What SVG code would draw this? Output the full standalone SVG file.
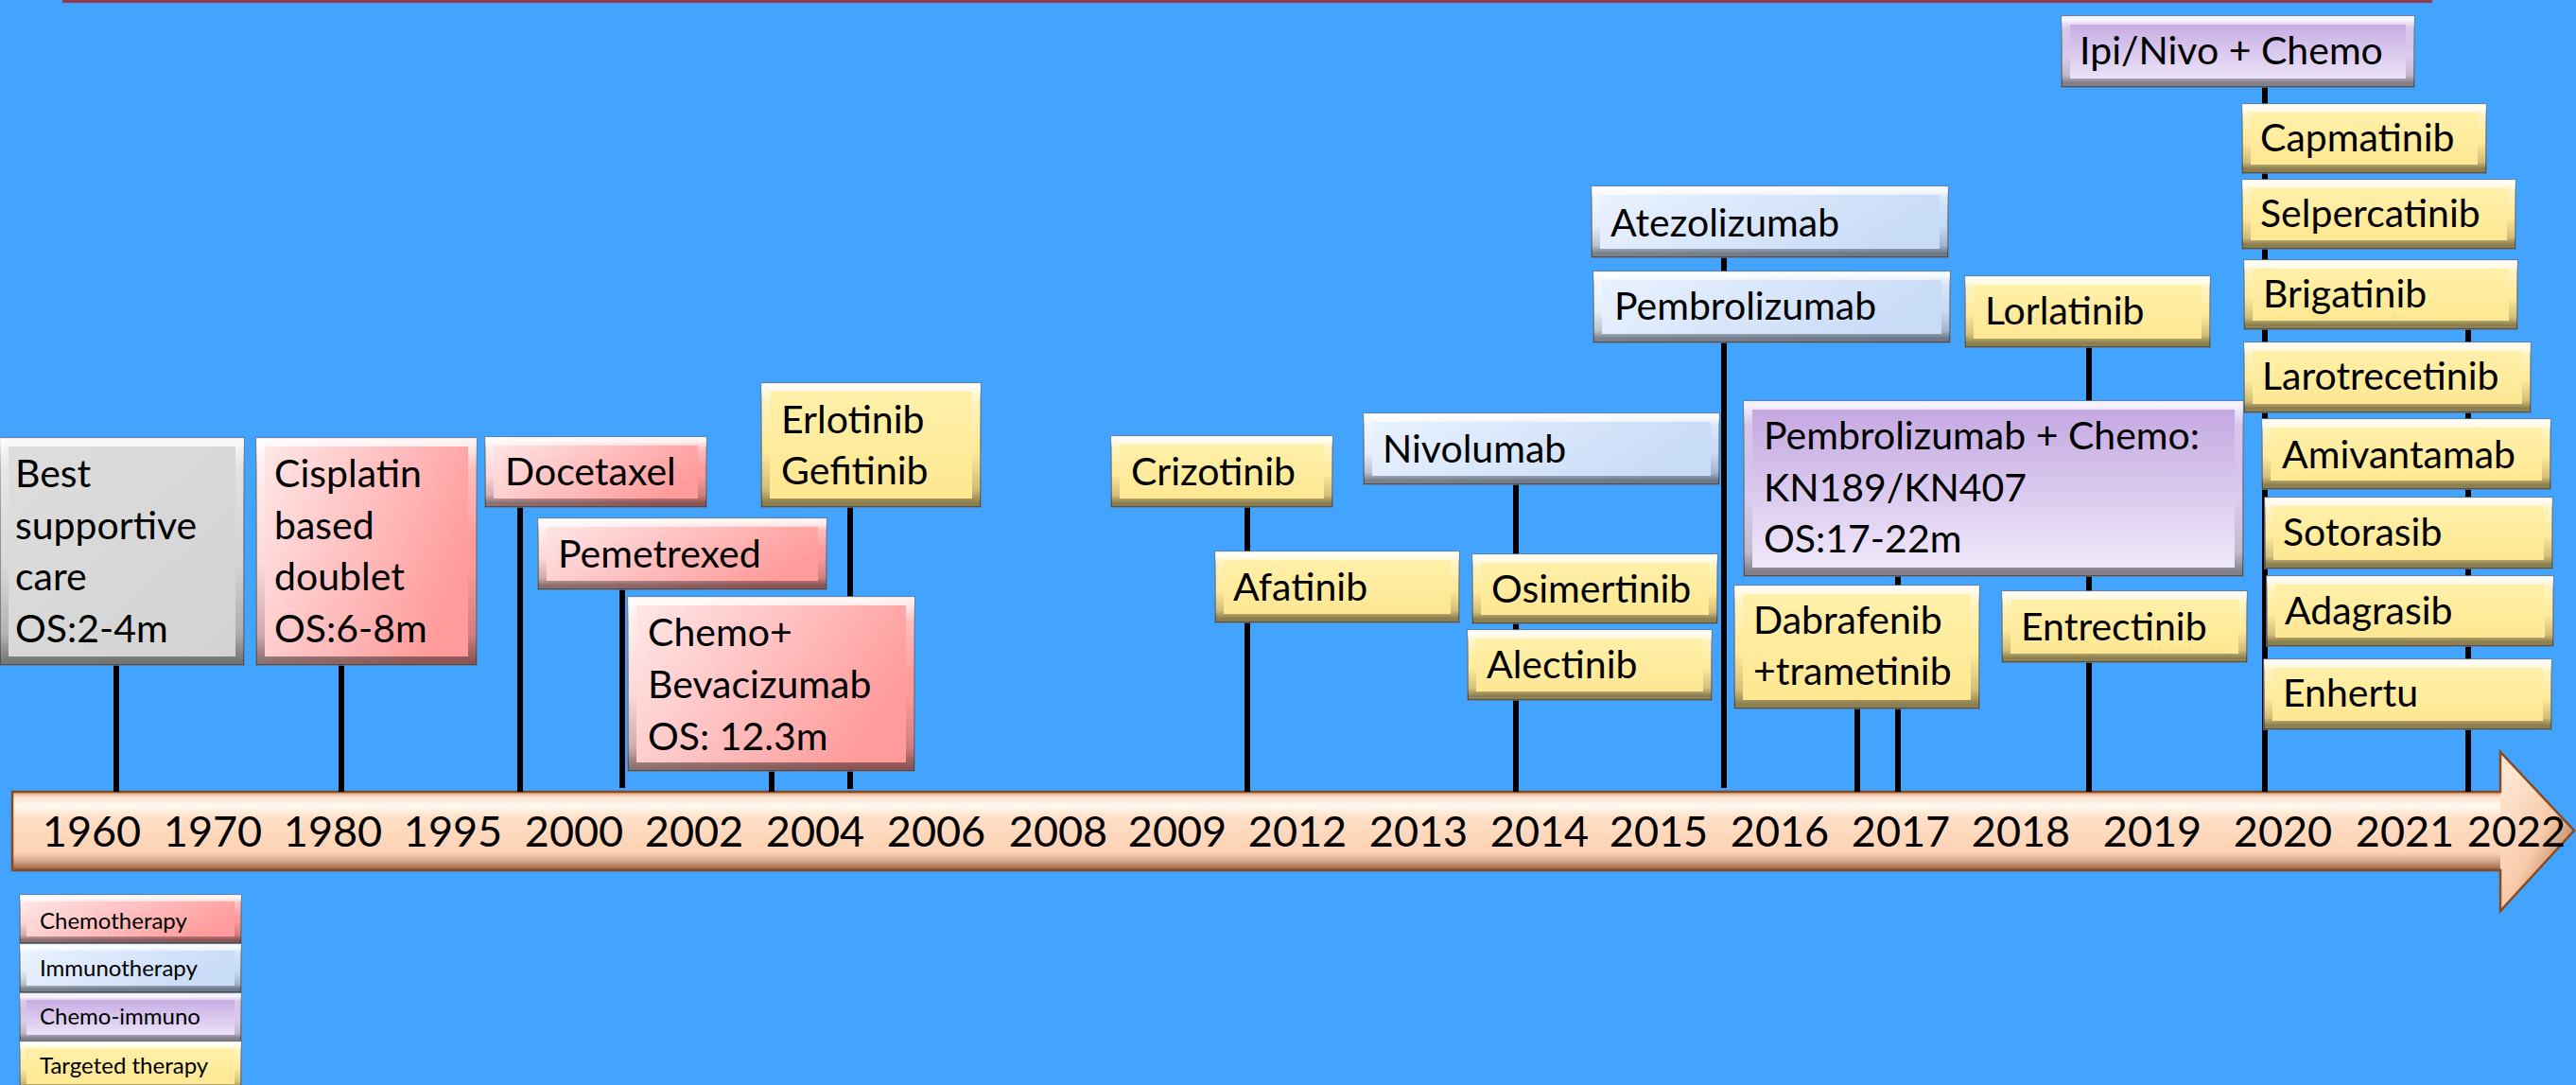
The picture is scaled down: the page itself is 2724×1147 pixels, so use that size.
<svg xmlns="http://www.w3.org/2000/svg" width="2724" height="1147" viewBox="0 0 2724 1147">
<defs>
<style>
.t{font-family:Lato,'Liberation Sans',sans-serif;font-size:41px;fill:#000}
.yr{font-family:Lato,'Liberation Sans',sans-serif;font-size:45px;fill:#000;text-anchor:middle}
.lg{font-family:Lato,'Liberation Sans',sans-serif;font-size:24px;fill:#000}
.box{stroke:#6a7a8c;stroke-width:1.5}
.bev{fill:none;stroke:url(#bev);stroke-width:9}
.pink{fill:url(#gPink)}
.gray{fill:url(#gGray)}
.blue{fill:url(#gBlue)}
.purple{fill:url(#gPurple)}
.yellow{fill:url(#gYellow)}
.ln{stroke:#000;stroke-width:6;fill:none}
</style>
<linearGradient id="gPink" x1="0" y1="0" x2="1" y2="0.4"><stop offset="0" stop-color="#FFEAEA"/><stop offset="1" stop-color="#FF9B9B"/></linearGradient>
<linearGradient id="gGray" x1="0" y1="0" x2="1" y2="1"><stop offset="0" stop-color="#DEDEDE"/><stop offset="1" stop-color="#D2D2D2"/></linearGradient>
<linearGradient id="gBlue" x1="0" y1="0" x2="1" y2="0.3"><stop offset="0" stop-color="#EBF3FF"/><stop offset="1" stop-color="#C8DBF7"/></linearGradient>
<linearGradient id="gPurple" x1="0" y1="0" x2="0" y2="1"><stop offset="0" stop-color="#C2A5E0"/><stop offset="1" stop-color="#F1EBFB"/></linearGradient>
<linearGradient id="gYellow" x1="0" y1="0" x2="0" y2="1"><stop offset="0" stop-color="#FFF1AC"/><stop offset="1" stop-color="#FFE68F"/></linearGradient>
<linearGradient id="bev" x1="0" y1="0" x2="0" y2="1">
<stop offset="0" stop-color="#FFFFFF" stop-opacity="0.85"/>
<stop offset="0.12" stop-color="#FFFFFF" stop-opacity="0.3"/>
<stop offset="0.45" stop-color="#FFFFFF" stop-opacity="0"/>
<stop offset="0.55" stop-color="#000000" stop-opacity="0"/>
<stop offset="0.88" stop-color="#000000" stop-opacity="0.18"/>
<stop offset="1" stop-color="#000000" stop-opacity="0.45"/>
</linearGradient>
<linearGradient id="arrowBody" gradientUnits="userSpaceOnUse" x1="0" y1="837" x2="0" y2="920">
<stop offset="0" stop-color="#D29A76"/>
<stop offset="0.07" stop-color="#FFE4D0"/>
<stop offset="0.18" stop-color="#FFF9F2"/>
<stop offset="0.32" stop-color="#FFE0C8"/>
<stop offset="0.55" stop-color="#FFD8BC"/>
<stop offset="0.78" stop-color="#FCD2B4"/>
<stop offset="0.88" stop-color="#D6A788"/>
<stop offset="0.96" stop-color="#A67656"/>
<stop offset="1" stop-color="#8B5A3A"/>
</linearGradient>
<linearGradient id="arrowHead" x1="0.1" y1="0.15" x2="0.8" y2="0.95">
<stop offset="0" stop-color="#FFE6D2"/>
<stop offset="0.55" stop-color="#F7CAAA"/>
<stop offset="1" stop-color="#A36C48"/>
</linearGradient>
</defs>
<rect x="0" y="0" width="2724" height="1147" fill="#42A4FE"/>
<rect x="66" y="0" width="2506" height="3" fill="#933A4E"/>

<g id="timeline">
<rect x="13" y="837" width="2633" height="83" fill="url(#arrowBody)"/>
<polygon points="2644,795 2722,878 2644,963" fill="url(#arrowHead)"/>
<path d="M13,837 H2644 V795 L2722,878 L2644,963 V920 H13 Z" fill="none" stroke="#8B4A1E" stroke-width="2.5"/>
<text class="yr" x="97" y="895">1960</text>
<text class="yr" x="225" y="895">1970</text>
<text class="yr" x="352" y="895">1980</text>
<text class="yr" x="479" y="895">1995</text>
<text class="yr" x="607" y="895">2000</text>
<text class="yr" x="734" y="895">2002</text>
<text class="yr" x="862" y="895">2004</text>
<text class="yr" x="990" y="895">2006</text>
<text class="yr" x="1119" y="895">2008</text>
<text class="yr" x="1245" y="895">2009</text>
<text class="yr" x="1372" y="895">2012</text>
<text class="yr" x="1500" y="895">2013</text>
<text class="yr" x="1628" y="895">2014</text>
<text class="yr" x="1754" y="895">2015</text>
<text class="yr" x="1882" y="895">2016</text>
<text class="yr" x="2010" y="895">2017</text>
<text class="yr" x="2137" y="895">2018</text>
<text class="yr" x="2276" y="895">2019</text>
<text class="yr" x="2414" y="895">2020</text>
<text class="yr" x="2543" y="895">2021</text>
<text class="yr" x="2661" y="895">2022</text>
</g>

<g id="connectors">
<line class="ln" x1="123" y1="703" x2="123" y2="837"/>
<line class="ln" x1="361" y1="703" x2="361" y2="837"/>
<line class="ln" x1="550" y1="536" x2="550" y2="837"/>
<line class="ln" x1="658" y1="623" x2="658" y2="833"/>
<line class="ln" x1="816" y1="815" x2="816" y2="837"/>
<line class="ln" x1="899" y1="536" x2="899" y2="834"/>
<line class="ln" x1="1319" y1="536" x2="1319" y2="837"/>
<line class="ln" x1="1603" y1="512" x2="1603" y2="837"/>
<line class="ln" x1="1823" y1="272" x2="1823" y2="833"/>
<line class="ln" x1="1964" y1="748" x2="1964" y2="837"/>
<line class="ln" x1="2007" y1="609" x2="2007" y2="837"/>
<line class="ln" x1="2209" y1="367" x2="2209" y2="837"/>
<line class="ln" x1="2395" y1="92" x2="2395" y2="837"/>
<line class="ln" x1="2610" y1="348" x2="2610" y2="837"/>
</g>

<g id="bsc"><rect class="box gray" x="0" y="463" width="258" height="240"/><rect class="bev" x="4.5" y="467.5" width="249" height="231"/>
<text class="t" x="16" y="515">Best<tspan x="16" dy="54.5">supportive</tspan><tspan x="16" dy="54.5">care</tspan><tspan x="16" dy="54.5">OS:2-4m</tspan></text></g>

<g id="cisplatin"><rect class="box pink" x="271" y="463" width="233" height="240"/><rect class="bev" x="275.5" y="467.5" width="224" height="231"/>
<text class="t" x="290" y="515">Cisplatin<tspan x="290" dy="54.5">based</tspan><tspan x="290" dy="54.5">doublet</tspan><tspan x="290" dy="54.5">OS:6-8m</tspan></text></g>

<g id="docetaxel"><rect class="box pink" x="513" y="462" width="234" height="74"/><rect class="bev" x="517.5" y="466.5" width="225" height="65"/>
<text class="t" x="534" y="513">Docetaxel</text></g>

<g id="pemetrexed"><rect class="box pink" x="569" y="548" width="305" height="75"/><rect class="bev" x="573.5" y="552.5" width="296" height="66"/>
<text class="t" x="590" y="600">Pemetrexed</text></g>

<g id="chemo-bev"><rect class="box pink" x="664" y="631" width="303" height="184"/><rect class="bev" x="668.5" y="635.5" width="294" height="175"/>
<text class="t" x="685" y="683">Chemo+<tspan x="685" dy="55">Bevacizumab</tspan><tspan x="685" dy="55">OS: 12.3m</tspan></text></g>

<g id="erlotinib"><rect class="box yellow" x="805" y="405" width="232" height="131"/><rect class="bev" x="809.5" y="409.5" width="223" height="122"/>
<text class="t" x="826" y="458">Erlotinib<tspan x="826" dy="54">Gefitinib</tspan></text></g>

<g id="crizotinib"><rect class="box yellow" x="1175" y="461" width="234" height="75"/><rect class="bev" x="1179.5" y="465.5" width="225" height="66"/>
<text class="t" x="1196" y="513">Crizotinib</text></g>

<g id="nivolumab"><rect class="box blue" x="1442" y="437" width="376" height="75"/><rect class="bev" x="1446.5" y="441.5" width="367" height="66"/>
<text class="t" x="1462" y="489">Nivolumab</text></g>

<g id="afatinib"><rect class="box yellow" x="1285" y="583" width="258" height="75"/><rect class="bev" x="1289.5" y="587.5" width="249" height="66"/>
<text class="t" x="1304" y="635">Afatinib</text></g>

<g id="osimertinib"><rect class="box yellow" x="1557" y="586" width="259" height="73"/><rect class="bev" x="1561.5" y="590.5" width="250" height="64"/>
<text class="t" x="1577" y="637">Osimertinib</text></g>

<g id="alectinib"><rect class="box yellow" x="1552" y="666" width="258" height="74"/><rect class="bev" x="1556.5" y="670.5" width="249" height="65"/>
<text class="t" x="1572" y="717">Alectinib</text></g>

<g id="atezolizumab"><rect class="box blue" x="1683" y="197" width="377" height="75"/><rect class="bev" x="1687.5" y="201.5" width="368" height="66"/>
<text class="t" x="1703" y="250">Atezolizumab</text></g>

<g id="pembrolizumab"><rect class="box blue" x="1685" y="287" width="377" height="75"/><rect class="bev" x="1689.5" y="291.5" width="368" height="66"/>
<text class="t" x="1707" y="338">Pembrolizumab</text></g>

<g id="pembro-chemo"><rect class="box purple" x="1844" y="424" width="528" height="185"/><rect class="bev" x="1848.5" y="428.5" width="519" height="176"/>
<text class="t" x="1865" y="475">Pembrolizumab + Chemo:<tspan x="1865" dy="55">KN189/KN407</tspan><tspan x="1865" dy="54">OS:17-22m</tspan></text></g>

<g id="dabrafenib"><rect class="box yellow" x="1834" y="619" width="259" height="130"/><rect class="bev" x="1838.5" y="623.5" width="250" height="121"/>
<text class="t" x="1854" y="670">Dabrafenib<tspan x="1854" dy="54">+trametinib</tspan></text></g>

<g id="lorlatinib"><rect class="box yellow" x="2078" y="292" width="259" height="75"/><rect class="bev" x="2082.5" y="296.5" width="250" height="66"/>
<text class="t" x="2099" y="343">Lorlatinib</text></g>

<g id="entrectinib"><rect class="box yellow" x="2117" y="625" width="259" height="75"/><rect class="bev" x="2121.5" y="629.5" width="250" height="66"/>
<text class="t" x="2137" y="677">Entrectinib</text></g>

<g id="ipi-nivo"><rect class="box purple" x="2180" y="17" width="373" height="75"/><rect class="bev" x="2184.5" y="21.5" width="364" height="66"/>
<text class="t" x="2199" y="68">Ipi/Nivo + Chemo</text></g>

<g id="capmatinib"><rect class="box yellow" x="2371" y="110" width="258" height="73"/><rect class="bev" x="2375.5" y="114.5" width="249" height="64"/>
<text class="t" x="2390" y="160">Capmatinib</text></g>

<g id="selpercatinib"><rect class="box yellow" x="2371" y="190" width="289" height="73"/><rect class="bev" x="2375.5" y="194.5" width="280" height="64"/>
<text class="t" x="2390" y="240">Selpercatinib</text></g>

<g id="brigatinib"><rect class="box yellow" x="2373" y="275" width="289" height="73"/><rect class="bev" x="2377.5" y="279.5" width="280" height="64"/>
<text class="t" x="2393" y="325">Brigatinib</text></g>

<g id="larotrecetinib"><rect class="box yellow" x="2373" y="362" width="303" height="74"/><rect class="bev" x="2377.5" y="366.5" width="294" height="65"/>
<text class="t" x="2392" y="412">Larotrecetinib</text></g>

<g id="amivantamab"><rect class="box yellow" x="2392" y="443" width="305" height="74"/><rect class="bev" x="2396.5" y="447.5" width="296" height="65"/>
<text class="t" x="2413" y="495">Amivantamab</text></g>

<g id="sotorasib"><rect class="box yellow" x="2395" y="526" width="304" height="75"/><rect class="bev" x="2399.5" y="530.5" width="295" height="66"/>
<text class="t" x="2414" y="577">Sotorasib</text></g>

<g id="adagrasib"><rect class="box yellow" x="2397" y="609" width="303" height="74"/><rect class="bev" x="2401.5" y="613.5" width="294" height="65"/>
<text class="t" x="2416" y="660">Adagrasib</text></g>

<g id="enhertu"><rect class="box yellow" x="2394" y="697" width="304" height="74"/><rect class="bev" x="2398.5" y="701.5" width="295" height="65"/>
<text class="t" x="2414" y="747">Enhertu</text></g>

<g id="legend">
<g id="legend-chemo"><rect class="box pink" x="21" y="946" width="234" height="51"/><rect class="bev" x="24.5" y="949.5" width="227" height="44" style="stroke-width:7"/><text class="lg" x="42" y="982">Chemotherapy</text></g>
<g id="legend-immuno"><rect class="box blue" x="21" y="998" width="234" height="51"/><rect class="bev" x="24.5" y="1001.5" width="227" height="44" style="stroke-width:7"/><text class="lg" x="42" y="1032">Immunotherapy</text></g>
<g id="legend-chemoimmuno"><rect class="box purple" x="21" y="1050" width="234" height="51"/><rect class="bev" x="24.5" y="1053.5" width="227" height="44" style="stroke-width:7"/><text class="lg" x="42" y="1083">Chemo-immuno</text></g>
<g id="legend-targeted"><rect class="box yellow" x="21" y="1101" width="234" height="52"/><rect class="bev" x="24.5" y="1104.5" width="227" height="45" style="stroke-width:7"/><text class="lg" x="42" y="1135">Targeted therapy</text></g>
</g>
</svg>
